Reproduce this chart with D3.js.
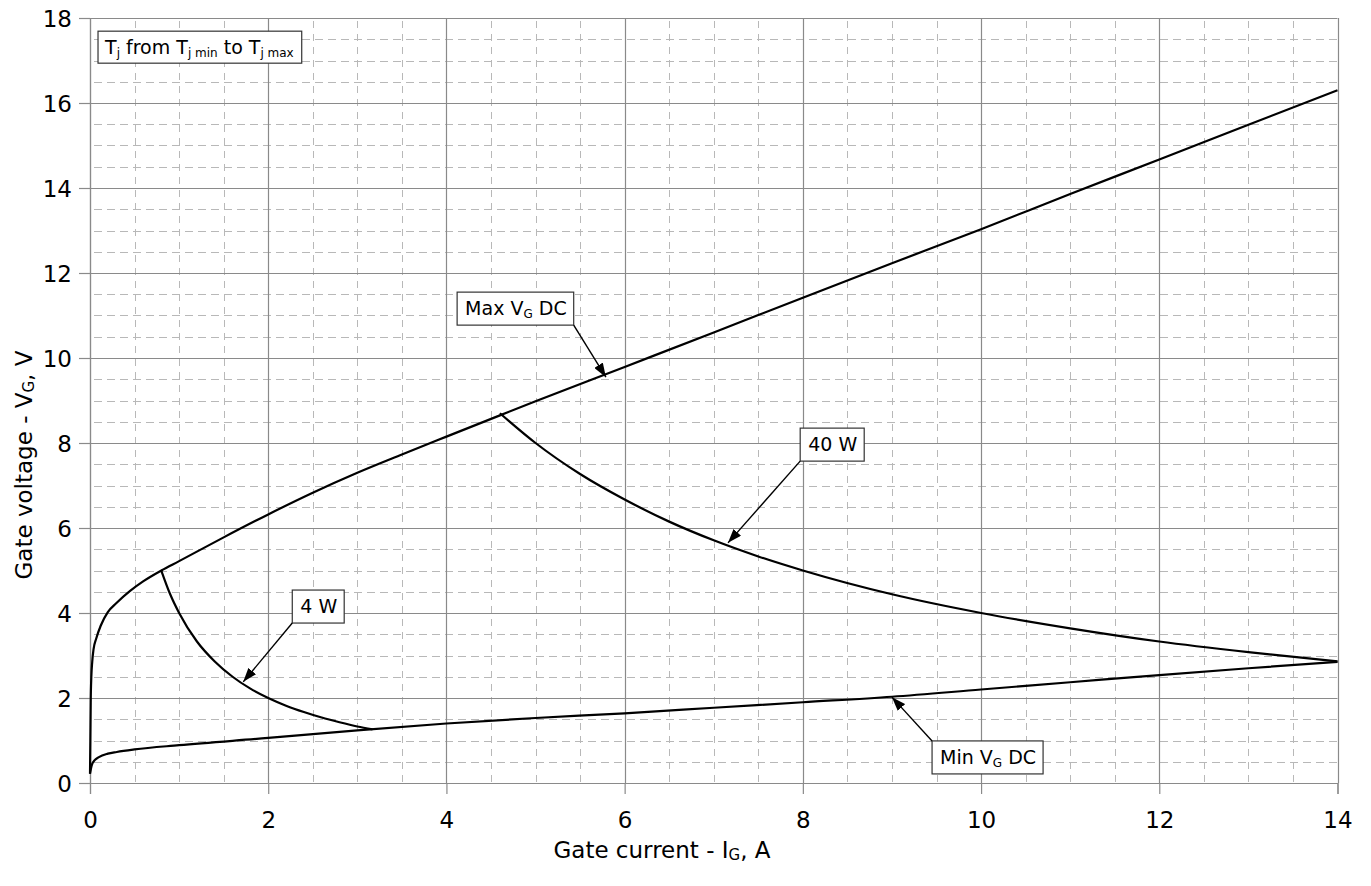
<!DOCTYPE html>
<html>
<head>
<meta charset="utf-8">
<script src="https://cdn.jsdelivr.net/npm/d3@7"></script>
<style>
  html, body { margin: 0; padding: 0; background: #fff; }
  svg { display: block; font-family: "DejaVu Sans", Verdana, sans-serif; }
</style>
</head>
<body>
<svg id="chart" width="1371" height="886"></svg>
<script>
// ---- data ----
const xTicks = [0, 2, 4, 6, 8, 10, 12, 14];
const yTicks = [0, 2, 4, 6, 8, 10, 12, 14, 16, 18];

// Max V_G DC curve (I_G [A], V_G [V])
const maxVgI = [0, 0.004, 0.008, 0.015, 0.025, 0.04, 0.07, 0.12, 0.2, 0.3, 0.45, 0.6, 0.8, 1, 1.5, 2, 2.5, 3, 3.5, 4, 4.6, 5, 6, 7, 8, 9, 10, 11, 12, 13, 14];
const maxVgV = [0.22, 1.0, 1.9, 2.5, 2.85, 3.15, 3.4, 3.7, 4.02, 4.24, 4.52, 4.75, 5.0, 5.22, 5.78, 6.32, 6.83, 7.3, 7.73, 8.15, 8.65, 8.98, 9.79, 10.6, 11.42, 12.23, 13.03, 13.86, 14.67, 15.49, 16.3];

// Min V_G DC curve
const minVgI = [0, 0.02, 0.05, 0.1, 0.2, 0.3, 0.5, 1, 2, 3, 4, 5, 6, 7, 8, 9, 10, 11, 12, 13, 14];
const minVgV = [0.22, 0.42, 0.53, 0.61, 0.69, 0.73, 0.79, 0.89, 1.06, 1.24, 1.4, 1.53, 1.64, 1.77, 1.9, 2.03, 2.2, 2.37, 2.54, 2.7, 2.85];

// 4 W power curve
const p4I = [0.8, 0.9, 1.0, 1.2, 1.4, 1.6, 1.8, 2.0, 2.2, 2.4, 2.6, 2.8, 3.0, 3.17];
const p4V = [5.0, 4.44, 4.0, 3.33, 2.86, 2.5, 2.22, 2.0, 1.82, 1.67, 1.54, 1.43, 1.33, 1.26];

// 40 W power curve
const p40I = [4.6, 5, 5.5, 6, 6.5, 7, 7.5, 8, 9, 10, 11, 12, 13, 14];
const p40V = [8.7, 8.0, 7.27, 6.67, 6.15, 5.71, 5.33, 5.0, 4.44, 4.0, 3.64, 3.33, 3.08, 2.86];

// annotations: box top-left (data units), arrow tip (data units), corner of box the arrow leaves from
const annLabels  = ["Max V|G| DC", "40 W", "4 W", "Min V|G| DC"];
const annBoxX    = [4.12, 7.97, 2.27, 9.45];
const annBoxY    = [11.55, 8.35, 4.54, 0.99];
const annTipX    = [5.79, 7.16, 1.72, 9.0];
const annTipY    = [9.55, 5.65, 2.38, 2.02];
const annCorner  = ["br", "bl", "bl", "tl"];

// ---- layout ----
const svg = d3.select("#chart");
const margin = { left: 90, right: 1371 - 1337.5, top: 18, bottom: 886 - 783 };
const W = 1371, H = 886;
const x = d3.scaleLinear().domain([0, 14]).range([margin.left, W - margin.right]);
const y = d3.scaleLinear().domain([0, 18]).range([H - margin.bottom, margin.top]);

const majorCol = "#8a8a8a", minorCol = "#b8b8b8";

// minor grid
const g = svg.append("g");
const minorX = d3.range(0.5, 14, 0.5).filter(v => v % 2 !== 0);
const minorY = d3.range(0.5, 18, 0.5).filter(v => v % 2 !== 0);
g.selectAll(".mx").data(minorX).enter().append("line")
  .attr("x1", d => Math.round(x(d)) + 0.5).attr("x2", d => Math.round(x(d)) + 0.5)
  .attr("y1", y(18)).attr("y2", y(0))
  .attr("stroke", minorCol).attr("stroke-width", 1).attr("stroke-dasharray", "7,6")
  .attr("stroke-dashoffset", -3);
g.selectAll(".my").data(minorY).enter().append("line")
  .attr("y1", d => Math.round(y(d)) + 0.5).attr("y2", d => Math.round(y(d)) + 0.5)
  .attr("x1", x(0)).attr("x2", x(14))
  .attr("stroke", minorCol).attr("stroke-width", 1).attr("stroke-dasharray", "8,5")
  .attr("stroke-dashoffset", -4);
// major grid
g.selectAll(".Mx").data(xTicks).enter().append("line")
  .attr("x1", d => Math.round(x(d)) + 0.5).attr("x2", d => Math.round(x(d)) + 0.5)
  .attr("y1", y(18)).attr("y2", y(0))
  .attr("stroke", majorCol).attr("stroke-width", 1.2);
g.selectAll(".My").data(yTicks).enter().append("line")
  .attr("y1", d => Math.round(y(d)) + 0.5).attr("y2", d => Math.round(y(d)) + 0.5)
  .attr("x1", x(0)).attr("x2", x(14))
  .attr("stroke", majorCol).attr("stroke-width", 1.2);

// axes
const xAxis = svg.append("g").attr("transform", `translate(0,${y(0)})`)
  .call(d3.axisBottom(x).tickValues(xTicks).tickSize(11).tickPadding(18).tickFormat(d3.format("d")));
const yAxis = svg.append("g").attr("transform", `translate(${x(0)},0)`)
  .call(d3.axisLeft(y).tickValues(yTicks).tickSize(11).tickPadding(7).tickFormat(d3.format("d")));
[xAxis, yAxis].forEach(a => {
  a.select(".domain").attr("stroke", majorCol).attr("stroke-width", 1.2);
  a.selectAll(".tick line").attr("stroke", majorCol).attr("stroke-width", 1.2);
  a.selectAll(".tick text").attr("fill", "#000").style("font-size", "23px")
    .style("font-family", "DejaVu Sans, Verdana, sans-serif");
});
yAxis.selectAll(".tick text").attr("dy", "0.36em");

// curves
const line = d3.line().x(d => x(d[0])).y(d => y(d[1])).curve(d3.curveMonotoneX);
const series = [
  d3.zip(maxVgI, maxVgV),
  d3.zip(minVgI, minVgV),
  d3.zip(p4I, p4V),
  d3.zip(p40I, p40V)
];
svg.append("g").selectAll("path").data(series).enter().append("path")
  .attr("d", line).attr("fill", "none").attr("stroke", "#000").attr("stroke-width", 2.2)
  .attr("stroke-linejoin", "round");

// helper: write text with |sub| segments as subscripts
function richText(sel, str, subSize, subDy) {
  const parts = str.split("|");
  parts.forEach((p, i) => {
    if (!p) return;
    const isSub = i % 2 === 1;
    const t = sel.append("tspan").text(p);
    if (isSub) {
      t.style("font-size", subSize + "px").attr("dy", subDy);
    } else if (i > 0) {
      t.attr("dy", -subDy);
    }
  });
}

// arrowhead marker
svg.append("defs").append("marker")
  .attr("id", "arr").attr("viewBox", "0 0 14 10").attr("refX", 14).attr("refY", 5)
  .attr("markerWidth", 14).attr("markerHeight", 10).attr("markerUnits", "userSpaceOnUse")
  .attr("orient", "auto")
  .append("path").attr("d", "M0,0 L14,5 L0,10 Z").attr("fill", "#000");

// annotation boxes + arrows
annLabels.forEach((lab, i) => {
  const bx = x(annBoxX[i]), by = y(annBoxY[i]);
  const grp = svg.append("g");
  const rect = grp.append("rect").attr("fill", "#fff").attr("stroke", "#333").attr("stroke-width", 1.2);
  const txt = grp.append("text").attr("x", bx + 8).attr("y", by + 23)
    .style("font-size", "19px").attr("fill", "#000");
  richText(txt, lab, 12, 3);
  const w = txt.node().getComputedTextLength() + 15;
  const h = 33;
  rect.attr("x", bx).attr("y", by).attr("width", w).attr("height", h);
  const c = annCorner[i];
  const sx = c.includes("r") ? bx + w : bx;
  const sy = c.includes("b") ? by + h : by;
  svg.append("line").attr("x1", sx).attr("y1", sy)
    .attr("x2", x(annTipX[i])).attr("y2", y(annTipY[i]))
    .attr("stroke", "#000").attr("stroke-width", 1.4).attr("marker-end", "url(#arr)");
});

// Tj box
(function () {
  const bx = x(0.09), by = y(17.69);
  const grp = svg.append("g");
  const rect = grp.append("rect").attr("fill", "#fff").attr("stroke", "#333").attr("stroke-width", 1.2);
  const txt = grp.append("text").attr("x", bx + 7).attr("y", by + 23)
    .style("font-size", "19px").attr("fill", "#000");
  richText(txt, "T|j| from T|j min| to T|j max|", 12, 3);
  const w = txt.node().getComputedTextLength() + 15;
  rect.attr("x", bx).attr("y", by).attr("width", w).attr("height", 32);
})();

// axis titles
const xt = svg.append("text").attr("x", 662).attr("y", 858).attr("text-anchor", "middle")
  .style("font-size", "23px").attr("fill", "#000");
richText(xt, "Gate current - I|G|, A", 15, 2);
const yt = svg.append("text").attr("transform", "translate(32,465) rotate(-90)").attr("text-anchor", "middle")
  .style("font-size", "23px").attr("fill", "#000");
richText(yt, "Gate voltage - V|G|, V", 15, 2);
</script>
</body>
</html>
